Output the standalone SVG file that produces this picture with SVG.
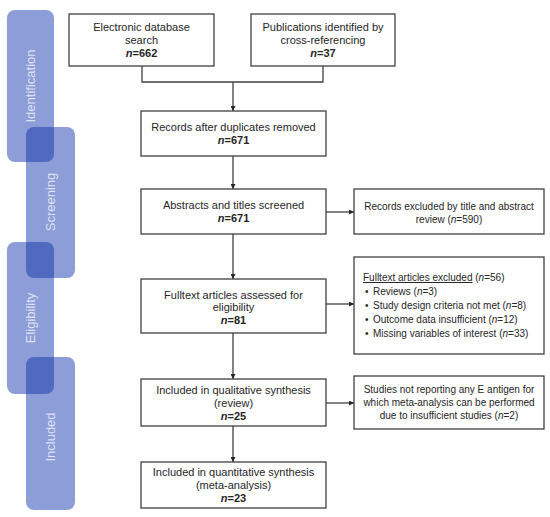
<svg xmlns="http://www.w3.org/2000/svg" width="550" height="517" viewBox="0 0 550 517">
<style>
.bar{fill:rgb(15,50,171);fill-opacity:0.48}
.bl{font-family:"Liberation Sans",Arial,sans-serif;font-size:13px;fill:#ffffff;fill-opacity:0.72;text-anchor:middle}
.box{fill:#ffffff;stroke:#404040;stroke-width:1.3}
.t{font-family:"Liberation Sans",Arial,sans-serif;font-size:11px;fill:#262626;text-anchor:middle}
.s{font-family:"Liberation Sans",Arial,sans-serif;font-size:10px;fill:#262626}
.m{text-anchor:middle}
.b{font-weight:bold}
.line{fill:none;stroke:#404040;stroke-width:1.3}
</style>
<defs>
<marker id="ah" viewBox="0 0 10 10" refX="10" refY="5" markerWidth="5" markerHeight="5" orient="auto" markerUnits="userSpaceOnUse">
<path d="M0,0 L10,5 L0,10 z" fill="#262626"/>
</marker>
</defs>
<g id="phases">
<g id="identification"><rect class="bar" x="7" y="10" width="47" height="152" rx="8"/><text class="bl" transform="translate(35,86) rotate(-90)">Identification</text></g>
<g id="screening"><rect class="bar" x="26" y="127" width="49" height="151" rx="8"/><text class="bl" transform="translate(55,202) rotate(-90)">Screening</text></g>
<g id="eligibility"><rect class="bar" x="7" y="242" width="47" height="152" rx="8"/><text class="bl" transform="translate(35,318) rotate(-90)">Eligibility</text></g>
<g id="included"><rect class="bar" x="26" y="357" width="49" height="153" rx="8"/><text class="bl" transform="translate(55,437) rotate(-90)">Included</text></g>
</g>
<g id="connectors">
<path class="line" d="M142,66 V82 H323 V66"/>
<path class="line" d="M233,82 V111" marker-end="url(#ah)"/>
<path class="line" d="M233,156 V189" marker-end="url(#ah)"/>
<path class="line" d="M233,234 V279" marker-end="url(#ah)"/>
<path class="line" d="M233,333 V379" marker-end="url(#ah)"/>
<path class="line" d="M233,426 V462" marker-end="url(#ah)"/>
<path class="line" d="M326,212 H354" marker-end="url(#ah)"/>
<path class="line" d="M326,304 H354" marker-end="url(#ah)"/>
<path class="line" d="M326,403 H354" marker-end="url(#ah)"/>
</g>
<g id="n-electronic"><rect class="box" x="69" y="14" width="145" height="52"/>
<text class="t" x="141.5" y="31">Electronic database</text><text class="t" x="141.5" y="44">search</text><text class="t b" x="141.5" y="57"><tspan font-style="italic">n</tspan>=662</text></g>
<g id="n-crossref"><rect class="box" x="251" y="14" width="144" height="52"/>
<text class="t" x="323" y="31">Publications identified by</text><text class="t" x="323" y="44">cross-referencing</text><text class="t b" x="323" y="57"><tspan font-style="italic">n</tspan>=37</text></g>
<g id="n-duplicates"><rect class="box" x="141" y="111" width="185" height="45"/>
<text class="t" x="233.5" y="131">Records after duplicates removed</text><text class="t b" x="233.5" y="144"><tspan font-style="italic">n</tspan>=671</text></g>
<g id="n-screened"><rect class="box" x="141" y="189" width="185" height="45"/>
<text class="t" x="233.5" y="209">Abstracts and titles screened</text><text class="t b" x="233.5" y="222"><tspan font-style="italic">n</tspan>=671</text></g>
<g id="n-excluded-title"><rect class="box" x="354" y="189" width="190" height="45"/>
<text class="s m" x="449" y="210">Records excluded by title and abstract</text><text class="s m" x="449" y="223">review (<tspan font-style="italic">n</tspan>=590)</text></g>
<g id="n-fulltext"><rect class="box" x="141" y="279" width="185" height="54"/>
<text class="t" x="233.5" y="299">Fulltext articles assessed for</text><text class="t" x="233.5" y="311">eligibility</text><text class="t b" x="233.5" y="324"><tspan font-style="italic">n</tspan>=81</text></g>
<g id="n-fulltext-excluded"><rect class="box" x="354" y="257" width="190" height="97"/>
<text class="s" x="363" y="281"><tspan text-decoration="underline">Fulltext articles excluded</tspan> (<tspan font-style="italic">n</tspan>=56)</text>
<text class="s" x="365" y="295">•</text><text class="s" x="373" y="295">Reviews (<tspan font-style="italic">n</tspan>=3)</text>
<text class="s" x="365" y="309">•</text><text class="s" x="373" y="309">Study design criteria not met (<tspan font-style="italic">n</tspan>=8)</text>
<text class="s" x="365" y="323">•</text><text class="s" x="373" y="323">Outcome data insufficient (<tspan font-style="italic">n</tspan>=12)</text>
<text class="s" x="365" y="337">•</text><text class="s" x="373" y="337">Missing variables of interest (<tspan font-style="italic">n</tspan>=33)</text></g>
<g id="n-qualitative"><rect class="box" x="141" y="379" width="185" height="47"/>
<text class="t" x="233.5" y="394">Included in qualitative synthesis</text><text class="t" x="233.5" y="407">(review)</text><text class="t b" x="233.5" y="420"><tspan font-style="italic">n</tspan>=25</text></g>
<g id="n-not-reporting"><rect class="box" x="354" y="376" width="190" height="53"/>
<text class="s m" x="449" y="393">Studies not reporting any E antigen for</text><text class="s m" x="449" y="406">which meta-analysis can be performed</text><text class="s m" x="449" y="419">due to insufficient studies (<tspan font-style="italic">n</tspan>=2)</text></g>
<g id="n-quantitative"><rect class="box" x="141" y="462" width="185" height="46"/>
<text class="t" x="233.5" y="476">Included in quantitative synthesis</text><text class="t" x="233.5" y="489">(meta-analysis)</text><text class="t b" x="233.5" y="502"><tspan font-style="italic">n</tspan>=23</text></g>
</svg>
